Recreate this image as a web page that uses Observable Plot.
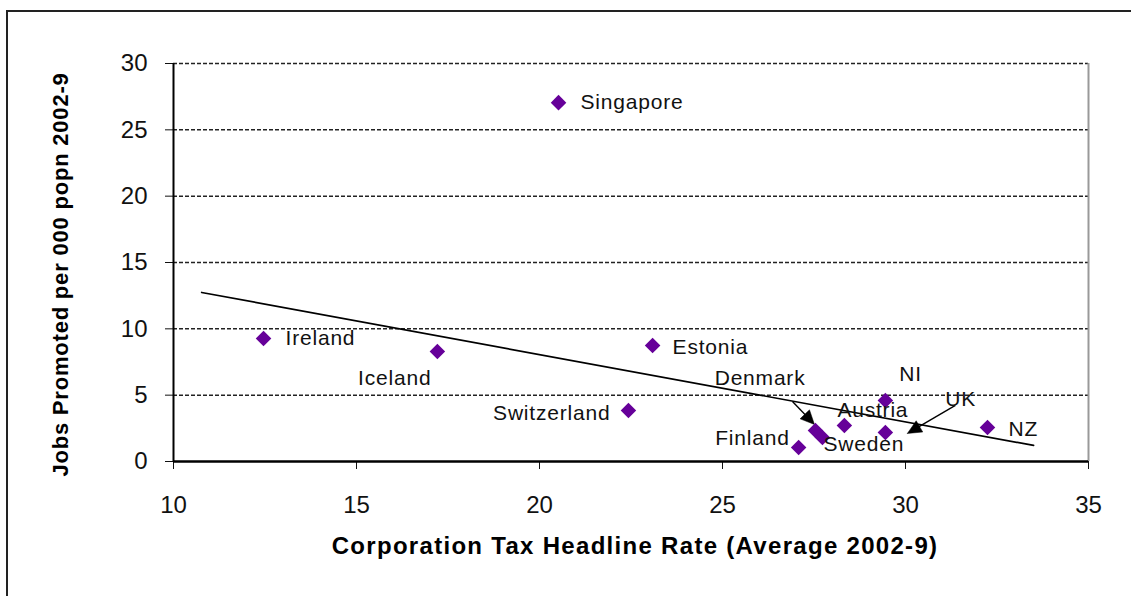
<!DOCTYPE html>
<html>
<head>
<meta charset="utf-8">
<script src="https://cdn.jsdelivr.net/npm/d3@7"></script>
<script src="https://cdn.jsdelivr.net/npm/@observablehq/plot@0.6"></script>
<style>
  html, body { margin: 0; padding: 0; background: #fff; overflow: hidden; }
  #wrap { position: relative; width: 1131px; height: 596px; }
  #frame { position: absolute; left: 6px; top: 10px; width: 2000px; height: 2000px;
           border-left: 2px solid #222; border-top: 2px solid #222; box-sizing: border-box; }
  #chart { position: absolute; left: 0; top: 0; }
  .lbl text { letter-spacing: 0.8px; }
  .ttlx text { letter-spacing: 1.3px; }
  .ttly text { letter-spacing: 0.8px; }
</style>
</head>
<body>
<div id="wrap"><div id="frame"></div><div id="chart"></div></div>
<script>
// ---- data ----
const countries = ["Singapore","Ireland","Iceland","Estonia","Switzerland","Denmark","NI","Austria","UK","NZ","Finland","Sweden"];
const taxRate   = [20.52, 12.46, 17.21, 23.09, 22.43, 27.54, 29.45, 28.33, 29.45, 32.24, 27.08, 27.73];
const jobs      = [27.05,  9.27,  8.29,  8.74,  3.84,  2.34,  4.60,  2.71,  2.19,  2.56,  1.05,  1.81];
const trendX = [10.77, 33.5];
const trendY = [12.74, 1.21];
const xTicks = [10, 15, 20, 25, 30, 35];
const yTicks = [0, 5, 10, 15, 20, 25, 30];
const xTitle = "Corporation Tax Headline Rate (Average 2002-9)";
const yTitle = "Jobs Promoted per 000 popn 2002-9";

// ---- layout (pixel offsets of labels / arrows relative to their point) ----
const W = 1131, H = 596, ML = 173, MR = 43, MT = 63, MB = 135;
const labelLayout = {
  Singapore:   {dx: 22,  dy: 0,   anchor: "start"},
  Ireland:     {dx: 22,  dy: 0,   anchor: "start"},
  Iceland:     {dx: -6,  dy: 27,  anchor: "end"},
  Estonia:     {dx: 20,  dy: 2,   anchor: "start"},
  Switzerland: {dx: -18, dy: 3,   anchor: "end"},
  Denmark:     {dx: -10, dy: -52, anchor: "end"},
  NI:          {dx: 14,  dy: -26, anchor: "start"},
  Austria:     {dx: -7,  dy: -15, anchor: "start"},
  UK:          {dx: 60,  dy: -33, anchor: "start"},
  NZ:          {dx: 21,  dy: 2,   anchor: "start"},
  Finland:     {dx: -9,  dy: -9,  anchor: "end"},
  Sweden:      {dx: 1,   dy: 7,   anchor: "start"}
};
const arrowLayout = {
  Denmark: {from: [-23, -29], to: [-1, -6]},
  UK:      {from: [70, -27],  to: [22, 1]}
};
const headLen = 14, headHalf = 6.5;

const rows = countries.map((c, i) => ({country: c, rate: taxRate[i], jobs: jobs[i]}));
const trend = trendX.map((x, i) => ({x, y: trendY[i]}));

const sx = d3.scaleLinear().domain([10, 35]).range([ML, W - MR]);
const sy = d3.scaleLinear().domain([0, 30]).range([H - MB, MT]);

const shafts = [], heads = [];
Object.entries(arrowLayout).forEach(([c, a]) => {
  const r = rows.find(d => d.country === c);
  const px = sx(r.rate), py = sy(r.jobs);
  const x1 = px + a.from[0], y1 = py + a.from[1];
  const x2 = px + a.to[0], y2 = py + a.to[1];
  const len = Math.hypot(x2 - x1, y2 - y1);
  const ux = (x2 - x1) / len, uy = (y2 - y1) / len;
  const bx = x2 - ux * headLen, by = y2 - uy * headLen;
  shafts.push({x1: sx.invert(x1), y1: sy.invert(y1), x2: sx.invert(bx + ux * 2), y2: sy.invert(by + uy * 2)});
  const pts = [[x2, y2], [bx - uy * headHalf, by + ux * headHalf], [bx + uy * headHalf, by - ux * headHalf], [x2, y2]];
  pts.forEach(([x, y]) => heads.push({id: c, x: sx.invert(x), y: sy.invert(y)}));
});

const labelMarks = rows.map(r => {
  const L = labelLayout[r.country];
  return Plot.text([r], {x: "rate", y: "jobs", text: "country", dx: L.dx, dy: L.dy,
    textAnchor: L.anchor, fontSize: 21, fill: "#111"});
});

const chart = Plot.plot({
  width: W, height: H,
  marginLeft: ML, marginRight: MR, marginTop: MT, marginBottom: MB,
  style: {fontFamily: "'Liberation Sans', Arial, sans-serif", fontSize: "24px", color: "#111", background: "transparent", overflow: "visible"},
  x: {domain: [10, 35], ticks: xTicks, tickSize: 8, tickPadding: 26, label: null},
  y: {domain: [0, 30], ticks: yTicks, tickSize: 8, tickPadding: 18, label: null},
  marks: [
    Plot.ruleY(yTicks.filter(v => v > 0), {stroke: "#222", strokeWidth: 1.5, strokeDasharray: "4,2"}),
    Plot.ruleX([35], {stroke: "#999", strokeWidth: 2}),
    Plot.ruleX([10], {stroke: "#000", strokeWidth: 2}),
    Plot.ruleY([0], {stroke: "#000", strokeWidth: 2.5}),
    Plot.line(trend, {x: "x", y: "y", stroke: "#000", strokeWidth: 1.7}),
    Plot.link(shafts, {x1: "x1", y1: "y1", x2: "x2", y2: "y2", stroke: "#000", strokeWidth: 1.4}),
    Plot.line(heads, {x: "x", y: "y", z: "id", fill: "#000", stroke: "#000", strokeWidth: 0.5}),
    Plot.dot(rows, {x: "rate", y: "jobs", symbol: "diamond2", r: 7, fill: "#660099", stroke: "none"}),
    ...labelMarks,
    Plot.text([yTitle], {text: d => d, frameAnchor: "left", dx: -113, dy: 12, rotate: -90,
      fontWeight: "bold", fontSize: 22, textAnchor: "middle", fill: "#000"}),
    Plot.text([xTitle], {text: d => d, frameAnchor: "bottom", dx: 4, dy: 92,
      fontWeight: "bold", fontSize: 24, textAnchor: "middle", fill: "#000"})
  ]
});

// tag label/title groups for letter spacing
const svg = d3.select(chart);
svg.selectAll("g[aria-label='text']").each(function() {
  const t = d3.select(this).select("text").text();
  if (t === xTitle) d3.select(this).attr("class", "ttlx");
  else if (t === yTitle) d3.select(this).attr("class", "ttly");
  else d3.select(this).attr("class", "lbl");
});
document.getElementById("chart").appendChild(chart);
</script>
</body>
</html>
